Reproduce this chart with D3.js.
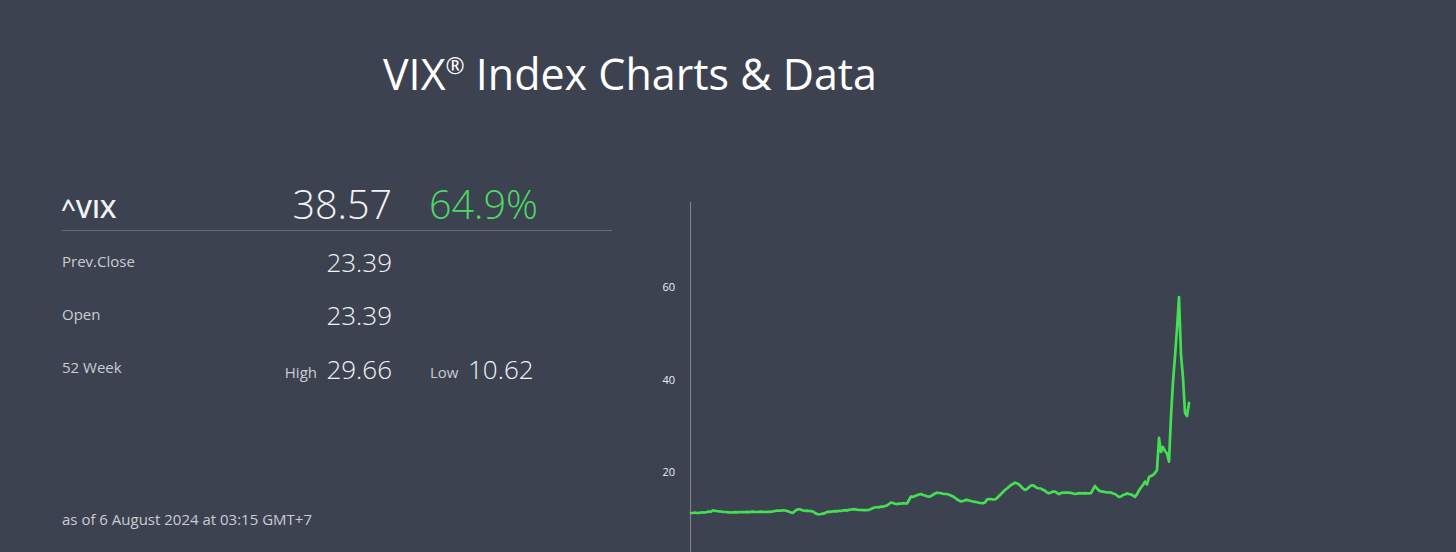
<!DOCTYPE html>
<html>
<head>
<meta charset="utf-8">
<script src="https://cdn.jsdelivr.net/npm/d3@7"></script>
<style>
  html, body { margin: 0; padding: 0; background: #3d4251; overflow: hidden; }
  svg { display: block; }
  text { font-family: "Open Sans", "Noto Sans", sans-serif; }
</style>
</head>
<body>
<svg id="chart" width="1456" height="552"></svg>
<script>
// ---- data ----
const title = "VIX® Index Charts & Data";
const symbol = "^VIX";
const lastValue = "38.57";
const changePct = "64.9%";
const statLabels = ["Prev.Close", "Open", "52 Week"];
const statValues = ["23.39", "23.39"];
const week52High = "29.66";
const week52Low = "10.62";
const asOfText = "as of 6 August 2024 at 03:15 GMT+7";
const yTicks = [20, 40, 60];
const yDomain = [0, 78.5];
const vixValues = [
  11.06, 11.06, 11.17, 11.06, 11.10, 11.17, 11.23, 11.17, 11.28, 11.39,
  11.32, 11.65, 11.54, 11.49, 11.43, 11.39, 11.32, 11.28, 11.23, 11.21,
  11.17, 11.21, 11.23, 11.21, 11.26, 11.23, 11.28, 11.23, 11.30, 11.26,
  11.32, 11.34, 11.30, 11.28, 11.32, 11.36, 11.32, 11.28, 11.32, 11.30,
  11.34, 11.39, 11.49, 11.56, 11.60, 11.54, 11.65, 11.60, 11.49, 11.36,
  11.17, 11.10, 11.49, 11.80, 11.88, 11.75, 11.60, 11.54, 11.56, 11.49,
  11.45, 11.39, 11.06, 10.84, 10.78, 10.84, 10.93, 11.02, 11.28, 11.36,
  11.32, 11.43, 11.45, 11.41, 11.54, 11.49, 11.60, 11.67, 11.58, 11.75,
  11.82, 11.88, 11.86, 11.80, 11.75, 11.71, 11.67, 11.71, 11.69, 11.75,
  11.93, 12.14, 12.25, 12.36, 12.25, 12.47, 12.40, 12.58, 12.69, 13.01,
  13.34, 13.23, 13.06, 12.97, 13.12, 13.06, 13.19, 13.12, 13.12, 13.88,
  14.64, 14.53, 14.75, 14.90, 15.07, 15.18, 14.96, 14.86, 14.68, 14.57,
  14.75, 15.01, 15.29, 15.46, 15.40, 15.35, 15.22, 15.18, 15.18, 15.01,
  14.86, 14.64, 14.36, 14.03, 13.77, 13.55, 13.66, 13.84, 13.92, 13.77,
  13.66, 13.55, 13.49, 13.38, 13.27, 13.23, 13.16, 13.34, 13.99, 14.10,
  14.05, 13.99, 14.03, 14.31, 14.75, 15.18, 15.61, 16.05, 16.37, 16.74,
  17.13, 17.35, 17.63, 17.50, 17.24, 16.81, 16.37, 16.05, 16.27, 16.66,
  17.02, 17.07, 16.81, 16.48, 16.42, 16.37, 16.09, 15.87, 15.51, 15.33,
  15.51, 15.72, 15.68, 15.40, 15.14, 15.40, 15.51, 15.46, 15.51, 15.46,
  15.42, 15.29, 15.18, 15.27, 15.35, 15.31, 15.33, 15.35, 15.33, 15.33,
  15.35, 16.16, 16.92, 16.37, 15.94, 15.72, 15.68, 15.61, 15.51, 15.55,
  15.51, 15.29, 15.18, 14.86, 14.53, 14.64, 14.96, 15.07, 15.33, 15.18,
  15.07, 14.86, 14.57, 15.14, 15.94, 16.59, 17.13, 17.85, 17.24, 18.87,
  19.08, 19.30, 19.73, 20.39, 27.33, 24.29, 25.37, 24.51, 23.96, 22.19,
  32.00, 39.50, 45.00, 51.00, 57.90, 45.33, 40.34, 32.75, 32.10, 34.92
];

// ---- drawing ----
const svg = d3.select("#chart");
const W = 1456, H = 552;
const col = {
  title: "#ffffff", label: "#c9ccd3", value: "#f2f3f5",
  green: "#4cd964", line: "#44e052", rule: "#646a78", axis: "#80858f", tick: "#eceef1"
};

// title
const t = svg.append("text")
  .attr("x", 630).attr("y", 90)
  .attr("text-anchor", "middle")
  .attr("fill", col.title)
  .style("font-size", "43px")
  .style("font-family", "'Open Sans', sans-serif");
t.append("tspan").text(title.split("®")[0]);
t.append("tspan").text("®").style("font-size", "23px").attr("dy", -16);
t.append("tspan").text(title.split("®")[1]).attr("dy", 16);

// header row
svg.append("text").attr("x", 61).attr("y", 218)
  .attr("fill", col.value).style("font-size", "26px").style("font-weight", 600)
  .text(symbol);
svg.append("text").attr("x", 392).attr("y", 219).attr("text-anchor", "end")
  .attr("fill", col.value).style("font-size", "39.5px").style("font-weight", 300)
  .text(lastValue);
svg.append("text").attr("x", 429).attr("y", 219)
  .attr("fill", col.green).style("font-size", "39.5px").style("font-weight", 300)
  .text(changePct);
svg.append("line").attr("x1", 62).attr("x2", 612).attr("y1", 230.5).attr("y2", 230.5)
  .attr("stroke", col.rule).attr("stroke-width", 1);

// stats rows
const rowY = [267, 320, 373];
statLabels.forEach((lab, i) => {
  svg.append("text").attr("x", 62).attr("y", rowY[i])
    .attr("fill", col.label).style("font-size", "15px")
    .text(lab);
});
statValues.forEach((v, i) => {
  svg.append("text").attr("x", 392).attr("y", rowY[i] + 5).attr("text-anchor", "end")
    .attr("fill", col.value).style("font-size", "26px").style("font-weight", 300)
    .text(v);
});
svg.append("text").attr("x", 317).attr("y", rowY[2] + 5).attr("text-anchor", "end")
  .attr("fill", col.label).style("font-size", "15px").text("High");
svg.append("text").attr("x", 392).attr("y", rowY[2] + 6).attr("text-anchor", "end")
  .attr("fill", col.value).style("font-size", "26px").style("font-weight", 300).text(week52High);
svg.append("text").attr("x", 430).attr("y", rowY[2] + 5)
  .attr("fill", col.label).style("font-size", "15px").text("Low");
svg.append("text").attr("x", 468).attr("y", rowY[2] + 6)
  .attr("fill", col.value).style("font-size", "26px").style("font-weight", 300).text(week52Low);

svg.append("text").attr("x", 62).attr("y", 525)
  .attr("fill", col.label).style("font-size", "15px").text(asOfText);

// chart
const x = d3.scaleLinear().domain([0, vixValues.length - 1]).range([691, 1189]);
const y = d3.scaleLinear().domain(yDomain).range([564, 202]);

const yAxis = d3.axisLeft(y).tickValues(yTicks).tickSize(0).tickPadding(16);
const gAxis = svg.append("g").attr("transform", "translate(691,0)").call(yAxis);
gAxis.select(".domain").remove();
gAxis.selectAll("text")
  .attr("fill", col.tick)
  .style("font-size", "11px")
  .style("font-family", "'Open Sans', sans-serif");

svg.append("line")
  .attr("x1", 690.5).attr("x2", 690.5)
  .attr("y1", y(yDomain[1])).attr("y2", H)
  .attr("stroke", col.axis).attr("stroke-width", 1);

const line = d3.line()
  .x((d, i) => x(i))
  .y(d => y(d));

svg.append("path")
  .datum(vixValues)
  .attr("d", line)
  .attr("fill", "none")
  .attr("stroke", col.line)
  .attr("stroke-width", 2.7)
  .attr("stroke-linejoin", "round")
  .attr("stroke-linecap", "round");
</script>
</body>
</html>
